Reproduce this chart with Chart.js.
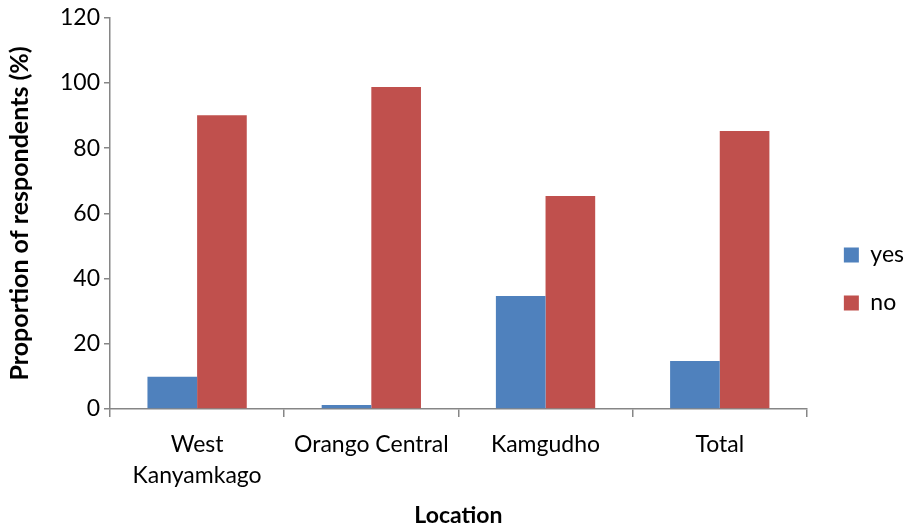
<!DOCTYPE html>
<html>
<head>
<meta charset="utf-8">
<script src="https://cdn.jsdelivr.net/npm/chart.js@4.4.1/dist/chart.umd.min.js"></script>
<style>
  html, body { margin: 0; padding: 0; background: #fff; }
  #wrap { width: 907px; height: 529px; position: relative; }
</style>
</head>
<body>
<div id="wrap"><canvas id="c" width="907" height="529"></canvas></div>
<script>
// Share of respondents answering yes / no, by location
const locations = [['West', 'Kanyamkago'], 'Orango Central', 'Kamgudho', 'Total'];
const yesValues = [9.9, 1.2, 34.7, 14.7];
const noValues = [90.1, 98.8, 65.3, 85.3];
const yTicks = [0, 20, 40, 60, 80, 100, 120];

const axisGrey = '#868686';
const fontFamily = 'Lato, "Open Sans", sans-serif';

// nudge the legend block away from the plot area after layout
const legendOffset = { x: 12, y: 10 };
const legendNudge = {
  id: 'legendNudge',
  afterLayout(chart) {
    const lg = chart.legend;
    if (!lg) return;
    lg.left += legendOffset.x; lg.right += legendOffset.x;
    lg.top += legendOffset.y; lg.bottom += legendOffset.y;
  }
};

new Chart(document.getElementById('c'), {
  type: 'bar',
  data: {
    labels: locations,
    datasets: [
      { label: 'yes', data: yesValues, backgroundColor: '#4f81bd', borderWidth: 0 },
      { label: 'no', data: noValues, backgroundColor: '#c0504d', borderWidth: 0 }
    ]
  },
  plugins: [legendNudge],
  options: {
    responsive: false,
    animation: false,
    layout: { padding: { left: 0, right: 5, top: 9, bottom: 0 } },
    datasets: { bar: { barPercentage: 1.0, categoryPercentage: 0.57 } },
    plugins: {
      tooltip: { enabled: false },
      legend: {
        position: 'right',
        align: 'center',
        labels: {
          boxWidth: 15,
          boxHeight: 15,
          padding: 25,
          color: '#000',
          font: { family: fontFamily, size: 23 }
        }
      }
    },
    scales: {
      x: {
        offset: true,
        grid: { display: true, drawOnChartArea: false, drawTicks: true, tickLength: 8, color: axisGrey, lineWidth: 1.5, offset: true },
        border: { color: axisGrey, width: 1.5 },
        ticks: { color: '#000', font: { family: fontFamily, size: 23, lineHeight: 1.35 }, padding: 12, maxRotation: 0, autoSkip: false },
        title: { display: true, text: 'Location', color: '#000', font: { family: fontFamily, size: 23, weight: 'bold' }, padding: { top: 0, bottom: 0 } },
        afterFit: s => { s.height = 120; }
      },
      y: {
        min: 0,
        max: 120,
        afterBuildTicks: s => { s.ticks = yTicks.map(v => ({ value: v })); },
        grid: { display: true, drawOnChartArea: false, drawTicks: true, tickLength: 6, color: axisGrey, lineWidth: 1.5 },
        border: { color: axisGrey, width: 1.5 },
        ticks: { color: '#000', font: { family: fontFamily, size: 23 }, padding: 4 },
        title: { display: true, text: 'Proportion of respondents (%)', color: '#000', font: { family: fontFamily, size: 25, weight: 'bold' }, padding: { top: 5, bottom: 0 } },
        afterFit: s => { s.width = 110; }
      }
    }
  }
});
</script>
</body>
</html>
